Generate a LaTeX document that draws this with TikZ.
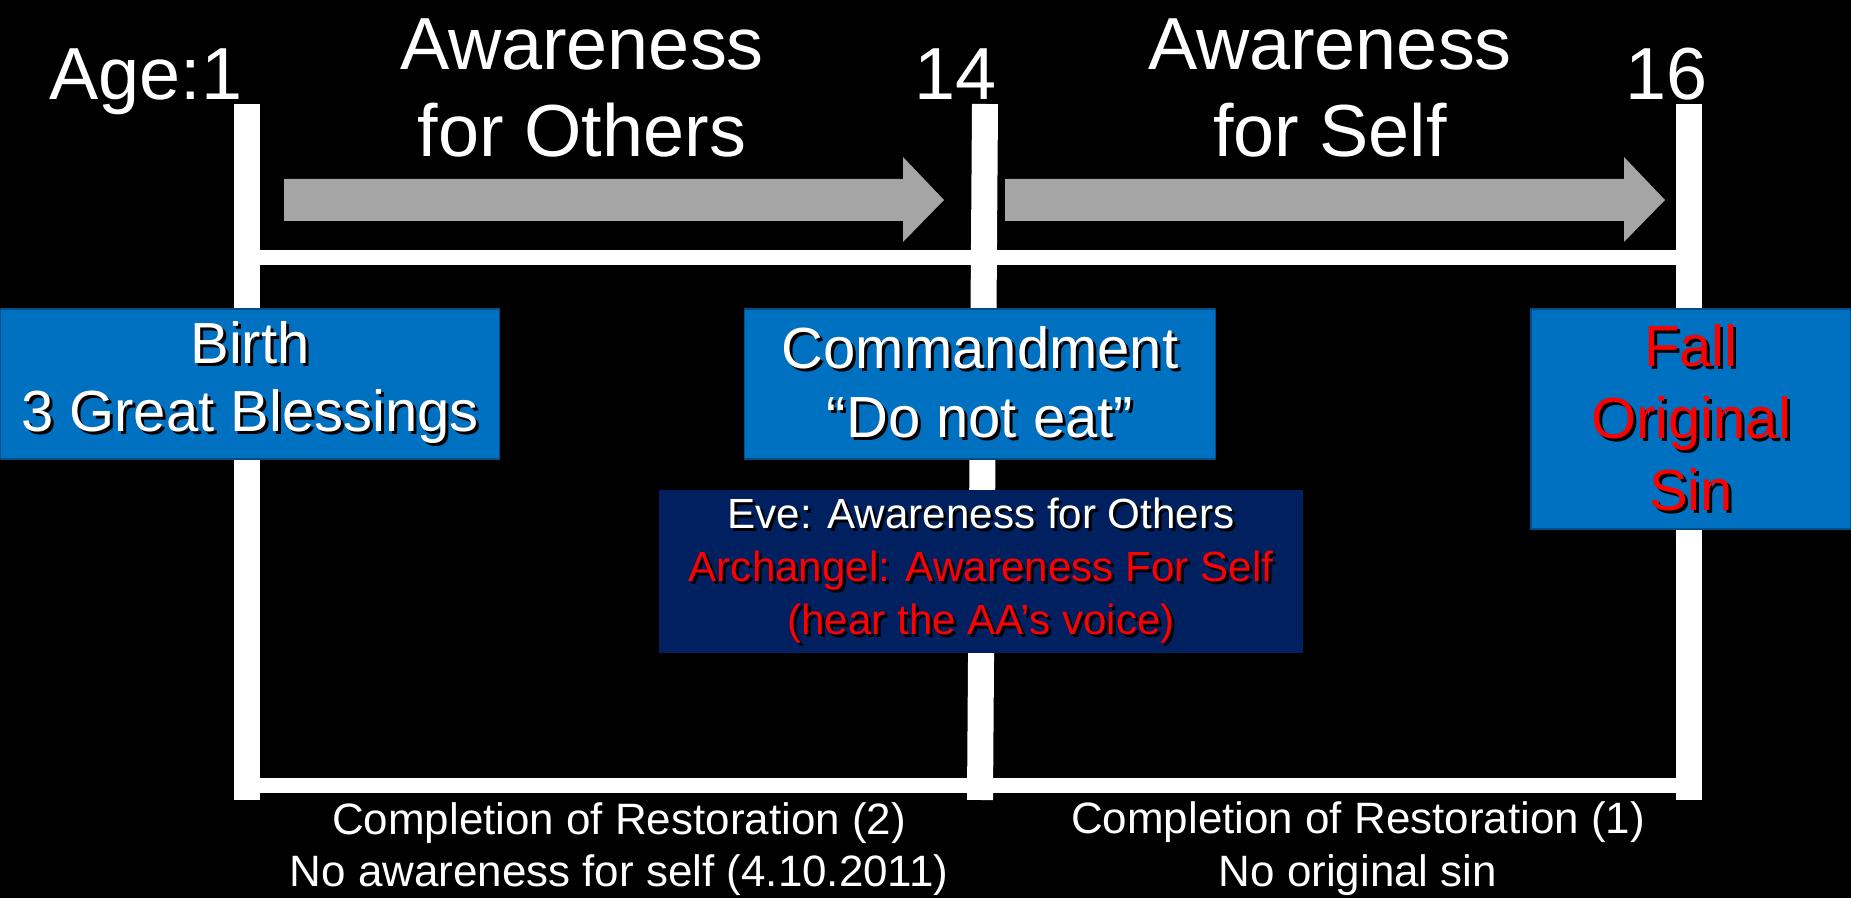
\documentclass[tikz,border=0pt]{standalone}
\usepackage{fontspec}
\setmainfont{Liberation Sans}
\definecolor{boxblue}{HTML}{0070C0}
\definecolor{boxnavy}{HTML}{002060}
\definecolor{arrowgray}{HTML}{A5A5A5}
\definecolor{sinred}{HTML}{FF0000}
% text with a small dark drop shadow
\newcommand{\shd}[1]{\makebox[0pt][l]{\hspace{0.3mm}\raisebox{-0.3mm}{\color{black}#1}}#1}
\tikzset{
    bar/.style={white, line width=2.6mm},
    rail/.style={white, line width=1.5mm},
    bigtxt/.style={text=white, font=\fontsize{21}{25}\selectfont, align=center, inner sep=0pt},
    eventbox/.style={fill=boxblue, draw=boxblue!70!black, line width=0.3pt, text=white,
        font=\fontsize{16.5}{19.5}\selectfont, align=center, inner sep=0pt},
    evebox/.style={fill=boxnavy, text=white, font=\fontsize{12}{15}\selectfont,
        align=center, inner sep=0pt, minimum width=64.4mm, minimum height=16.3mm},
    bottomtxt/.style={text=white, font=\fontsize{12.5}{15}\selectfont, align=center, inner sep=0pt}
}
\begin{document}
\begin{tikzpicture}[x=0.1mm, y=-0.1mm]
    \useasboundingbox (0,0) rectangle (1851,898);
    \fill[black] (0,0) rectangle (1851,898);
    \foreach \n/\xt/\xb in {one/247/247, two/985/980, three/1689/1689} {
        \coordinate (\n top) at (\xt,104);
        \coordinate (\n bot) at (\xb,800);
    }
    \coordinate (onehi) at (247,258);
    \coordinate (threehi) at (1689,258);
    \coordinate (onelo) at (247,786);
    \coordinate (threelo) at (1689,786);

    % timeline
    \draw[rail] (onehi) -- (threehi);
    \draw[rail] (onelo) -- (threelo);
    \foreach \n in {one, two, three} {
        \draw[bar] (\n top) -- (\n bot);
    }

    % gray period arrows
    \foreach \s/\e in {284/944, 1005/1665} {
        \fill[arrowgray] (\s,179) -- (\e-41,179) -- (\e-41,157) -- (\e,200)
            -- (\e-41,242) -- (\e-41,221) -- (\s,221) -- cycle;
    }

    \node[bigtxt, anchor=base east] (ageone) at (243,100) {Age:1};
    \node[bigtxt, anchor=base east] (agefourteen) at (997,100) {14};
    \node[bigtxt, anchor=base east] (agesixteen) at (1708,100) {16};
    \node[bigtxt, anchor=base] (forothers) at (582,157) {Awareness\\for Others};
    \node[bigtxt, anchor=base] (forself) at (1330,157) {Awareness\\for Self};

    \node[eventbox, minimum width=49.9mm, minimum height=15mm] (birth) at (250,384)
        {\shd{Birth}\\\shd{3 Great Blessings}};
    \node[eventbox, minimum width=47.1mm, minimum height=15mm] (command) at (980,384)
        {\shd{Commandment}\\\shd{“Do not eat”}};
    \node[eventbox, text=sinred, minimum width=32mm, minimum height=22mm,
        font=\fontsize{16.5}{20.5}\selectfont] (fall) at (1691,419)
        {\shd{Fall}\\\shd{Original}\\\shd{Sin}};
    \node[evebox] (eve) at (981,572)
        {\shd{Eve: Awareness for Others}\\
         \color{sinred}\shd{Archangel: Awareness For Self}\\
         \color{sinred}\shd{(hear the AA’s voice)}};

    \node[bottomtxt] (restoretwo) at (619,849)
        {Completion of Restoration (2)\\No awareness for self (4.10.2011)};
    \node[bottomtxt] (restoreone) at (1358,849)
        {Completion of Restoration (1)\\No original sin};
\end{tikzpicture}
\end{document}
